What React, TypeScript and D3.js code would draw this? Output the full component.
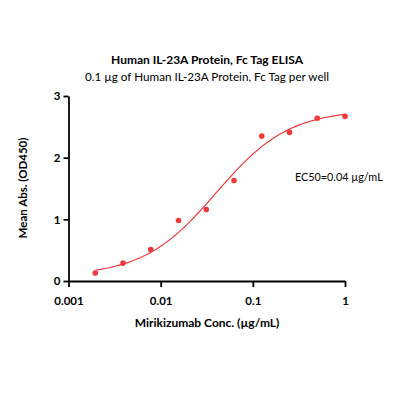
import * as d3 from "d3";
import { useEffect, useRef } from "react";

// measured concentrations (µg/mL) and mean OD450
const conc = [1, 0.5, 0.25, 0.125, 0.0625, 0.03125, 0.015625, 0.0078125, 0.00390625, 0.001953125];
const od450 = [2.67, 2.64, 2.41, 2.35, 1.63, 1.16, 0.98, 0.51, 0.29, 0.13];

// 4PL fit parameters
const fitBottom = 0.08;
const fitTop = 2.78;
const fitEC50 = 0.04;
const fitHill = 1.1;

const xTicks = [0.001, 0.01, 0.1, 1];
const xTickLabels = ["0.001", "0.01", "0.1", "1"];
const yTicks = [0, 1, 2, 3];

const title = "Human IL-23A Protein, Fc Tag ELISA";
const subtitle = "0.1 µg of Human IL-23A Protein, Fc Tag per well";
const xLabel = "Mirikizumab Conc. (µg/mL)";
const yLabel = "Mean Abs. (OD450)";
const ec50Label = "EC50=0.04 µg/mL";

const RED = "#f0393d";
const FONT = "Lato, 'Open Sans', sans-serif";

export default function App() {
  const svgRef = useRef<SVGSVGElement | null>(null);

  useEffect(() => {
    if (!svgRef.current) return;
    const width = 400;
    const height = 400;
    const margin = { top: 96, right: 55, bottom: 119, left: 68.5 };

    d3.select(svgRef.current).selectAll("*").remove();
    const svg = d3.select(svgRef.current).attr("width", width).attr("height", height);

    const x = d3
      .scaleLog()
      .domain([0.001, 1])
      .range([margin.left, width - margin.right]);

    const y = d3
      .scaleLinear()
      .domain([0, 3])
      .range([height - margin.bottom, margin.top]);

    // titles
    svg
      .append("text")
      .attr("x", 207)
      .attr("y", 64)
      .attr("text-anchor", "middle")
      .attr("font-family", FONT)
      .attr("font-weight", "bold")
      .attr("font-size", 12)
      .text(title);
    svg
      .append("text")
      .attr("x", 207)
      .attr("y", 80.5)
      .attr("text-anchor", "middle")
      .attr("font-family", FONT)
      .attr("font-size", 11.7)
      .text(subtitle);

    // fitted curve
    const fit = (c: number) => fitBottom + (fitTop - fitBottom) / (1 + Math.pow(fitEC50 / c, fitHill));
    const lo = Math.log10(d3.min(conc) as number);
    const curveX = d3.range(0, 101).map((i) => Math.pow(10, lo + (i / 100) * (0 - lo)));
    const line = d3
      .line<number>()
      .x((c) => x(c))
      .y((c) => y(fit(c)));
    svg
      .append("path")
      .datum(curveX)
      .attr("fill", "none")
      .attr("stroke", RED)
      .attr("stroke-width", 1.2)
      .attr("d", line);

    // points
    svg
      .selectAll("circle")
      .data(conc)
      .join("circle")
      .attr("cx", (c) => x(c))
      .attr("cy", (_, i) => y(od450[i]))
      .attr("r", 2.8)
      .attr("fill", RED);

    // x axis
    const gx = svg
      .append("g")
      .attr("transform", `translate(0,${height - margin.bottom})`)
      .call(
        d3
          .axisBottom(x)
          .tickValues(xTicks)
          .tickSize(6)
          .tickSizeOuter(0)
          .tickFormat((_, i) => xTickLabels[i]),
      );
    gx.select(".domain").attr("stroke-width", 1.8);
    gx.selectAll(".tick line").attr("stroke-width", 1.8);
    gx.selectAll(".tick text")
      .attr("font-family", FONT)
      .attr("font-weight", "bold")
      .attr("font-size", 11.5)
      .attr("dy", "1.3em")
      .attr("fill", "#000");

    // y axis
    const gy = svg
      .append("g")
      .attr("transform", `translate(${margin.left},0)`)
      .call(d3.axisLeft(y).tickValues(yTicks).tickSize(5).tickSizeOuter(0).tickFormat(d3.format("d")));
    gy.select(".domain").attr("stroke-width", 1.8);
    gy.selectAll(".tick line").attr("stroke-width", 1.8);
    gy.selectAll(".tick text")
      .attr("font-family", FONT)
      .attr("font-weight", "bold")
      .attr("font-size", 11.5)
      .attr("x", -8)
      .attr("fill", "#000");

    // axis labels
    svg
      .append("text")
      .attr("x", 207)
      .attr("y", 327)
      .attr("text-anchor", "middle")
      .attr("font-family", FONT)
      .attr("font-weight", "bold")
      .attr("font-size", 12)
      .text(xLabel);
    svg
      .append("text")
      .attr("transform", `translate(27,188) rotate(-90)`)
      .attr("text-anchor", "middle")
      .attr("font-family", FONT)
      .attr("font-weight", "bold")
      .attr("font-size", 11.5)
      .text(yLabel);

    svg
      .append("text")
      .attr("x", 295)
      .attr("y", 181)
      .attr("font-family", FONT)
      .attr("font-size", 10.8)
      .text(ec50Label);
  }, []);

  return (
    <svg
      ref={svgRef}
      style={{ position: "absolute", left: 0, top: 0, background: "#fff" }}
    />
  );
}
